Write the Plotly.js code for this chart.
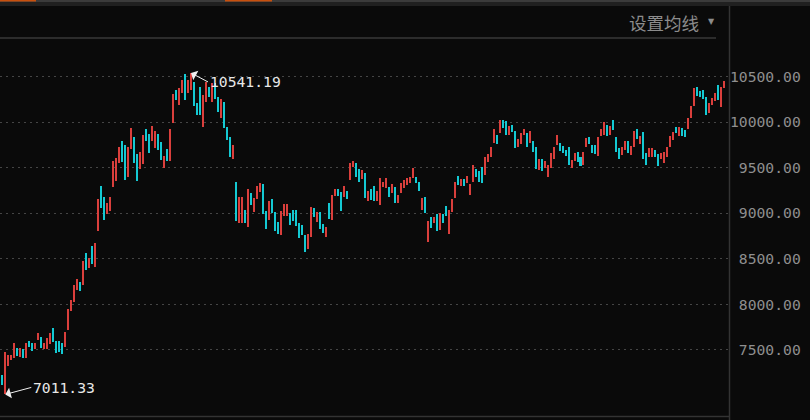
<!DOCTYPE html>
<html>
<head>
<meta charset="utf-8">
<script src="https://cdn.plot.ly/plotly-3.0.1.min.js"></script>
<style>
html,body{margin:0;padding:0;background:#0a0a0a;}
#chart{width:810px;height:420px;}
</style>
</head>
<body>
<div id="chart"></div>
<script>
// Candle bodies (open / close), one per trading day, left to right
const openPrices = [
  7279,7224,7011.33,7323,7389,7411,7521,7422,7510,7411,
  7598,7576,7510,7609,7642,7510,7510,7565,7741,7598,
  7598,7576,7532,7719,7927,8026,8158,8246,8213,8564,
  8399,8641,8410,8806,9300,9179,8992,9025,9289,9355,
  9552,9794,9750,9399,9706,9838,9651,9486,9541,9926,
  9871,9794,9717,9871,9783,9497,9706,9574,9991,10354,
  10189,10321,10530,10321,10354,10442,10211,10387,9948,10222,
  10387,10222,10431,10277,10046,10222,9948,9838,9596,9344,
  8893,8893,9036,8850,9223,9014,9157,9234,9322,9025,
  8926,9157,9014,8904,8762,8970,8970,9003,9036,9036,
  8893,8871,8762,8608,8740,9058,8904,9014,8882,8740,
  9113,8926,9190,9267,9234,9179,9245,9366,9508,9552,
  9486,9377,9442,9135,9267,9300,9135,9091,9289,9278,
  9289,9223,9289,9113,9223,9278,9311,9333,9388,9399,
  9344,9036,9179,8685,8959,8893,8992,8817,8992,9080,
  8773,9014,9168,9410,9300,9377,9333,9201,9344,9486,
  9464,9508,9420,9563,9618,9772,9860,9882,10024,10013,
  9860,9969,9904,9728,9761,9860,9882,9772,9794,9728,
  9475,9596,9497,9399,9497,9596,9750,9772,9739,9695,
  9728,9497,9574,9673,9618,9530,9728,9838,9750,9750,
  9629,9849,9860,9969,9860,10024,9838,9717,9640,9695,
  9794,9640,9728,9926,9761,9893,9662,9618,9618,9695,
  9651,9596,9552,9618,9728,9805,9948,9849,9937,9915,
  9926,10046,10178,10387,10343,10354,10277,10101,10189,10233,
  10409,10167,10376
];
const closePrices = [
  7137,7115,7477,7444,7444,7576,7433,7521,7411,7576,
  7532,7488,7576,7686,7521,7576,7631,7686,7587,7466,
  7477,7455,7697,7949,8048,8213,8279,8147,8476,8377,
  8509,8443,8674,9157,9058,8926,9113,9179,9574,9607,
  9728,9563,9366,9728,9937,9552,9355,9673,9860,9794,
  9662,9959,9904,9695,9585,9629,9574,9926,10310,10244,
  10376,10464,10244,10464,10541.19,10178,10079,10079,10299,10442,
  10277,10431,10255,10112,10255,9937,9805,9618,9750,8915,
  9179,9179,8893,9267,9091,9168,9300,9333,8992,8828,
  9135,9003,8806,8773,9025,9102,9102,8871,8915,8861,
  8729,8762,8575,8773,9069,8959,9014,8828,8784,8850,
  8937,9201,9267,9190,9025,9300,9157,9552,9574,9399,
  9344,9475,9168,9245,9146,9135,9245,9388,9344,9388,
  9179,9322,9113,9201,9333,9366,9388,9399,9497,9333,
  9245,9168,9003,8915,8839,8959,8806,9003,8893,8970,
  9036,9157,9344,9311,9377,9300,9410,9322,9530,9399,
  9344,9333,9618,9651,9728,9926,9761,10024,9937,9860,
  9959,9893,9717,9816,9882,9926,9728,9904,9673,9486,
  9596,9464,9574,9530,9662,9728,9860,9684,9662,9629,
  9530,9585,9662,9563,9519,9673,9827,9761,9662,9651,
  9838,9926,10002,9849,9959,9915,9673,9596,9728,9794,
  9662,9739,9904,9816,9849,9596,9530,9717,9717,9618,
  9519,9662,9673,9728,9849,9893,9882,9948,9849,9838,
  10046,10178,10376,10288,10277,10255,10079,10211,10266,10321,
  10244,10387,10453
];
const yTickValues = [7500, 8000, 8500, 9000, 9500, 10000, 10500];
const yTickLabels = ["\u00a07500.00", "\u00a08000.00", "\u00a08500.00", "\u00a09000.00", "\u00a09500.00", "10000.00", "10500.00"];
const menuLabel = "设置均线";

const UP = "#da3f3c", DOWN = "#14c9d3";
const n = openPrices.length;
const xs = [], bases = [], heights = [], colors = [];
let hiIdx = 0, loIdx = 0, hiVal = -Infinity, loVal = Infinity;
for (let i = 0; i < n; i++) {
  const o = openPrices[i], c = closePrices[i];
  xs.push(i);
  bases.push(Math.min(o, c));
  heights.push(Math.abs(c - o));
  colors.push(c >= o ? UP : DOWN);
  if (Math.max(o, c) > hiVal) { hiVal = Math.max(o, c); hiIdx = i; }
  if (Math.min(o, c) < loVal) { loVal = Math.min(o, c); loIdx = i; }
}

// pixel helpers for decorations outside the plot area (plot: x 0..729, y 38..417)
const PW = 729, PT = 38, PB = 417, PH = PB - PT;
const px = v => v / PW;
const py = v => (PB - v) / PH;

const trace = {
  type: "bar", x: xs, y: heights, base: bases,
  width: 0.67,
  marker: { color: colors, line: { width: 0 } },
  hoverinfo: "skip"
};

const gray = "#8c8c8c";
const layout = {
  width: 810, height: 420,
  margin: { l: 0, r: 81, t: 38, b: 3, pad: 0 },
  paper_bgcolor: "#0a0a0a", plot_bgcolor: "#0a0a0a",
  showlegend: false, bargap: 0,
  xaxis: { range: [0.234, 243.57], showgrid: false, zeroline: false, showticklabels: false, showline: false, ticks: "", fixedrange: true },
  yaxis: {
    side: "right", range: [6763.5, 10925],
    tickmode: "array", tickvals: yTickValues, ticktext: yTickLabels,
    showgrid: true, gridcolor: "#454545", gridwidth: 1, griddash: "2px,4px",
    zeroline: false, showline: false, ticks: "",
    tickfont: { family: "DejaVu Sans Mono", size: 14.7, color: "#8f8f8f" },
    fixedrange: true
  },
  shapes: [
    { type: "rect", xref: "paper", yref: "paper", x0: 0, x1: px(810), y0: py(2), y1: py(0), fillcolor: "#3b3b3b", line: { width: 0 } },
    { type: "rect", xref: "paper", yref: "paper", x0: 0, x1: px(36), y0: py(1.5), y1: py(0), fillcolor: "#c8500e", line: { width: 0 } },
    { type: "rect", xref: "paper", yref: "paper", x0: px(225), x1: px(272), y0: py(1.5), y1: py(0), fillcolor: "#c8500e", line: { width: 0 } },
    { type: "rect", xref: "paper", yref: "paper", x0: 0, x1: px(810), y0: py(6), y1: py(2), fillcolor: "#202020", line: { width: 0 } },
    { type: "line", xref: "paper", yref: "paper", x0: 0, x1: px(716), y0: py(38), y1: py(38), line: { color: "#2c2c2c", width: 2 } },
    { type: "line", xref: "paper", yref: "paper", x0: px(729.5), x1: px(729.5), y0: py(6), y1: py(420), line: { color: "#333333", width: 1.5 } },
    { type: "line", xref: "paper", yref: "paper", x0: 0, x1: px(729.5), y0: py(416.5), y1: py(416.5), line: { color: "#333333", width: 1.5 } }
  ],
  annotations: [
    { xref: "paper", yref: "paper", x: px(701), y: py(22.5), xanchor: "right", yanchor: "middle", showarrow: false,
      text: menuLabel, font: { family: "Noto Sans CJK SC", size: 17.5, color: gray } },
    { xref: "paper", yref: "paper", x: px(711), y: py(21.5), xanchor: "center", yanchor: "middle", showarrow: false,
      text: "▼", font: { family: "DejaVu Sans", size: 8, color: gray } },
    { x: hiIdx, y: hiVal, xref: "x", yref: "y", text: hiVal.toFixed(2), showarrow: true,
      ax: 17, ay: 9, xanchor: "left", yanchor: "middle", arrowhead: 1, arrowsize: 1.8, arrowwidth: 1,
      arrowcolor: "#f0f0f0", standoff: 0, startstandoff: 0,
      font: { family: "DejaVu Sans Mono", size: 14.7, color: "#e8e8e8" } },
    { x: loIdx, y: loVal, xref: "x", yref: "y", text: loVal.toFixed(2), showarrow: true,
      ax: 26, ay: -7, xanchor: "left", yanchor: "middle", arrowhead: 1, arrowsize: 1.8, arrowwidth: 1,
      arrowcolor: "#f0f0f0", standoff: 0, startstandoff: 0,
      font: { family: "DejaVu Sans Mono", size: 14.7, color: "#e8e8e8" } }
  ]
};

Plotly.newPlot("chart", [trace], layout, { staticPlot: true, displayModeBar: false });
</script>
</body>
</html>
